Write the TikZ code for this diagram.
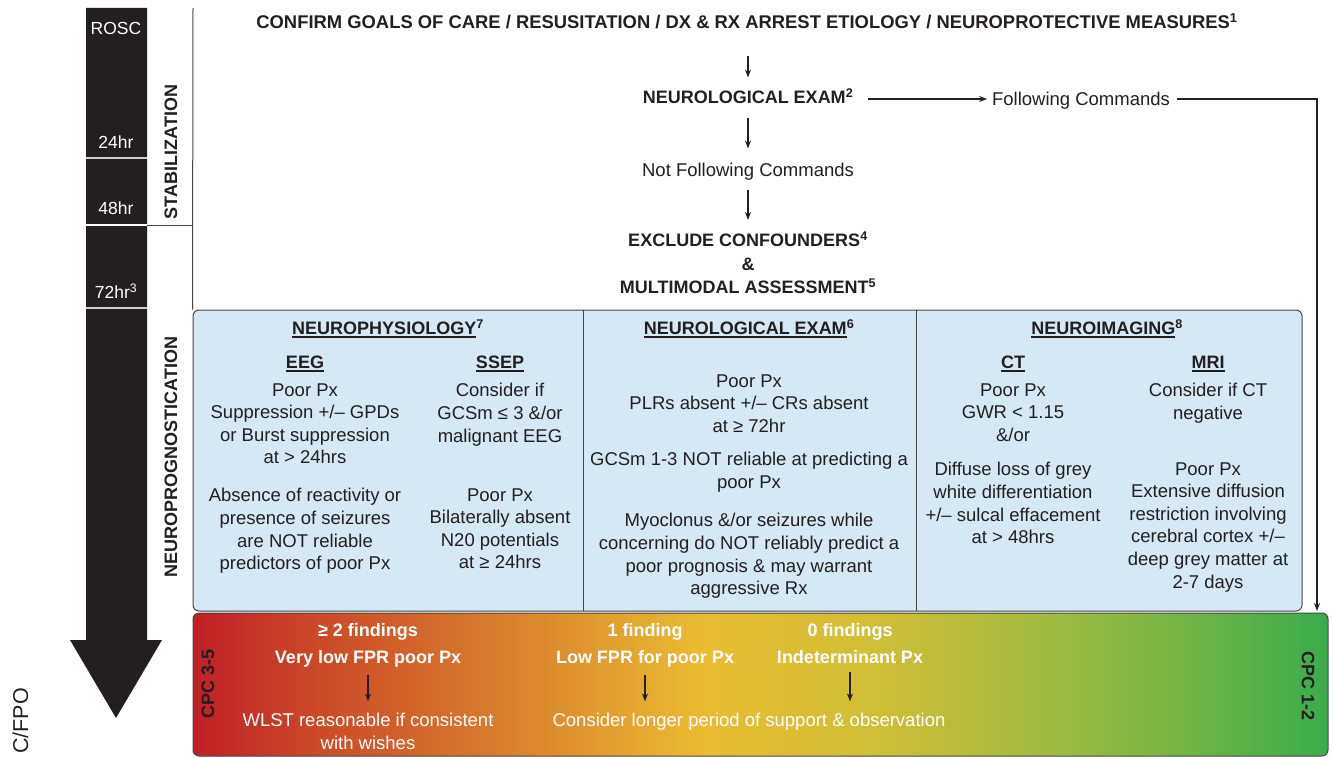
\documentclass[tikz,border=0pt]{standalone}
\usepackage{fontspec}
\setmainfont{Liberation Sans}
\usetikzlibrary{arrows.meta,calc}
\definecolor{barblack}{RGB}{35,31,32}
\definecolor{txt}{RGB}{35,31,32}
\definecolor{panelblue}{RGB}{213,232,243}
\definecolor{edge}{RGB}{70,70,70}
\definecolor{gA}{RGB}{192,32,38}
\definecolor{gB}{RGB}{202,70,40}
\definecolor{gC}{RGB}{220,135,45}
\definecolor{gD}{RGB}{234,188,50}
\definecolor{gE}{RGB}{208,190,55}
\definecolor{gF}{RGB}{145,185,65}
\definecolor{gG}{RGB}{58,172,75}
\pgfdeclarehorizontalshading{cpcgrad}{100bp}{color(0bp)=(gA); color(25bp)=(gA); color(30bp)=(gB); color(40bp)=(gC); color(47.5bp)=(gD); color(55bp)=(gE); color(65bp)=(gF); color(75bp)=(gG); color(100bp)=(gG)}
\newcommand{\myul}[1]{\setbox0=\hbox{#1}\leavevmode\rlap{\raisebox{-3pt}{\rule{\wd0}{1.3pt}}}\box0}
\tikzset{
  body/.style={font=\fontsize{18.5}{22.6}\selectfont, inner sep=0pt, outer sep=0pt, align=center, text=txt},
  hdr/.style={font=\fontsize{18}{23.5}\selectfont\bfseries, inner sep=0pt, outer sep=0pt, align=center, text=txt},
  onel/.style={text height=13pt, text depth=0pt},
  wbody/.style={body, text=white},
  whdr/.style={font=\fontsize{18}{27}\selectfont\bfseries, inner sep=0pt, outer sep=0pt, align=center, text=white},
  bartxt/.style={font=\fontsize{17.5}{20}\selectfont, text=white, inner sep=0pt},
  sidetxt/.style={font=\fontsize{18}{20}\selectfont\bfseries, text=txt, inner sep=0pt},
  arr/.style={draw=txt, line width=1.1pt, -{Stealth[length=8pt,width=6pt]}},
  frame/.style={draw=edge, line width=1pt},
}
\begin{document}
\begin{tikzpicture}[x=1pt,y=-1pt]
\useasboundingbox (0,0) rectangle (1332,757);

% timeline bar
\fill[barblack] (86,8) -- (147,8) -- (147,640) -- (162,640) -- (116,718) -- (70,640) -- (86,640) -- cycle;
\draw[line width=2pt, black!20] (86,158) -- (147,158);
\draw[line width=2pt, white] (86,225) -- (147,225);
\draw[line width=2pt, black!20] (86,308) -- (147,308);
\node[bartxt] (rosc) at (116,28) {ROSC};
\node[bartxt] (h24) at (116,142) {24hr};
\node[bartxt] (h48) at (116,208) {48hr};
\node[bartxt] (h72) at (116,291) {72hr\textsuperscript{3}};
\node[sidetxt, rotate=90] (stab) at (171,152) {STABILIZATION};
\node[sidetxt, rotate=90] (neuro) at (171,457) {NEUROPROGNOSTICATION};
\node[font=\fontsize{21.5}{21.5}\selectfont, rotate=90, anchor=east, inner sep=0pt, text=txt] (fpo) at (20.5,688) {C/FPO};

% panels
\node[frame, fill=panelblue, rounded corners=6pt, minimum width=1109pt, minimum height=301pt, inner sep=0pt] (panel) at (747.5,460.5) {};
\node[frame, shading=cpcgrad, rounded corners=6pt, minimum width=1135pt, minimum height=143pt, inner sep=0pt] (grad) at (760.5,684.5) {};
\draw[frame] (583,310) -- (583,611);
\draw[frame] (916,310) -- (916,611);
\draw[frame] (193,8) -- (panel.north west);
\draw[frame] (147,225) -- (193,225);

% top flow
\node[hdr, onel, font=\fontsize{18.4}{20}\selectfont\bfseries] (t1) at (747,22) {CONFIRM GOALS OF CARE / RESUSITATION / DX \& RX ARREST ETIOLOGY / NEUROPROTECTIVE MEASURES\textsuperscript{1}};
\node[hdr, onel] (ne1) at (748,97) {NEUROLOGICAL EXAM\textsuperscript{2}};
\node[body, onel] (fc) at (1081,99) {Following Commands};
\node[body, onel] (nfc) at (748,170) {Not Following Commands};
\node[hdr, anchor=north] (ex) at (748,232) {EXCLUDE CONFOUNDERS\textsuperscript{4}\\\&\\MULTIMODAL ASSESSMENT\textsuperscript{5}};
\coordinate (fcend) at (1317,611);

\draw[arr, shorten <=28pt, shorten >=13pt] (t1.south -| ne1.north) -- (ne1.north);
\draw[arr, shorten <=15pt, shorten >=15pt] (ne1.south) -- (nfc.north);
\draw[arr, shorten <=13pt, shorten >=12pt] (nfc.south) -- (ex.north);
\draw[arr, shorten <=15pt, shorten >=5pt] (ne1.east |- fc.west) -- (fc.west);
\draw[arr, shorten <=7pt] (fc.east) -| (fcend);

% column 1
\node[hdr, onel] (np) at (388,328) {\myul{NEUROPHYSIOLOGY}\textsuperscript{7}};
\node[hdr, onel] (eeg) at (305,362) {\myul{EEG}};
\node[hdr, onel] (ssep) at (500,362) {\myul{SSEP}};
\node[body, anchor=north] (eeg1) at (305,383.4) {Poor Px\\Suppression +/– GPDs\\or Burst suppression\\at > 24hrs};
\node[body, anchor=north] (eeg2) at (305,488.4) {Absence of reactivity or\\presence of seizures\\are NOT reliable\\predictors of poor Px};
\node[body, anchor=north] (ssep1) at (500,383.4) {Consider if\\GCSm ≤ 3 \&/or\\malignant EEG};
\node[body, anchor=north] (ssep2) at (500,488.4) {Poor Px\\Bilaterally absent\\N20 potentials\\at ≥ 24hrs};

% column 2
\node[hdr, onel] (ne2) at (749,328) {\myul{NEUROLOGICAL EXAM}\textsuperscript{6}};
\node[body, anchor=north] (nx1) at (749,374.4) {Poor Px\\PLRs absent +/– CRs absent\\at ≥ 72hr};
\node[body, anchor=north] (nx2) at (749,452.4) {GCSm 1-3 NOT reliable at predicting a\\poor Px};
\node[body, anchor=north] (nx3) at (749,513.4) {Myoclonus \&/or seizures while\\concerning do NOT reliably predict a\\poor prognosis \& may warrant\\aggressive Rx};

% column 3
\node[hdr, onel] (ni) at (1107,328) {\myul{NEUROIMAGING}\textsuperscript{8}};
\node[hdr, onel] (ct) at (1013,362) {\myul{CT}};
\node[hdr, onel] (mri) at (1208,362) {\myul{MRI}};
\node[body, anchor=north] (ct1) at (1013,383.4) {Poor Px\\GWR < 1.15\\\&/or};
\node[body, anchor=north] (ct2) at (1013,462.4) {Diffuse loss of grey\\white differentiation\\+/– sulcal effacement\\at > 48hrs};
\node[body, anchor=north] (mri1) at (1208,383.4) {Consider if CT\\negative};
\node[body, anchor=north] (mri2) at (1208,462.4) {Poor Px\\Extensive diffusion\\restriction involving\\cerebral cortex +/–\\deep grey matter at\\2-7 days};

% outcome bar
\node[sidetxt, rotate=90] (cpc35) at (208,684) {CPC 3-5};
\node[sidetxt, rotate=-90] (cpc12) at (1308,686) {CPC 1-2};
\node[whdr, anchor=north] (g2) at (368,623.5) {≥ 2 findings\\Very low FPR poor Px};
\node[whdr, anchor=north] (g1) at (645,623.5) {1 finding\\Low FPR for poor Px};
\node[whdr, anchor=north] (g0) at (850,623.5) {0 findings\\Indeterminant Px};
\node[wbody, anchor=north] (wl) at (368,713.4) {WLST reasonable if consistent\\with wishes};
\node[wbody, anchor=north] (cl) at (749,713.4) {Consider longer period of support \& observation};
\draw[arr, shorten <=8pt, shorten >=12pt] (g2.south) -- (wl.north);
\draw[arr, shorten <=8pt, shorten >=12pt] (g1.south) -- (g1.south |- cl.north);
\draw[arr, shorten <=8pt, shorten >=12pt] (g0.south) -- (g0.south |- cl.north);
\end{tikzpicture}
\end{document}
